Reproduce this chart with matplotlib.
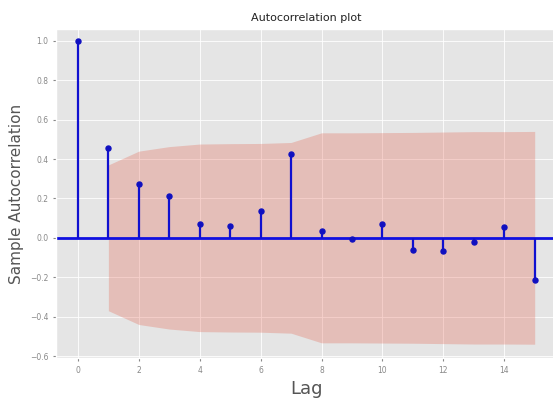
import numpy as np
import matplotlib
matplotlib.use("Agg")
import matplotlib.pyplot as plt

plt.style.use("ggplot")

lags = list(range(16))
acf_values = [1.0, 0.455, 0.275, 0.213, 0.071, 0.06, 0.134, 0.425,
              0.036, -0.007, 0.071, -0.064, -0.068, -0.02, 0.056, -0.215]
# 95% confidence half-width for lags 1..15
conf_half = [0.37, 0.44, 0.463, 0.476, 0.478, 0.479, 0.484, 0.533,
             0.533, 0.534, 0.535, 0.537, 0.539, 0.539, 0.54]

y_ticks = [-0.6, -0.4, -0.2, 0.0, 0.2, 0.4, 0.6, 0.8, 1.0]
x_ticks = [0, 2, 4, 6, 8, 10, 12, 14]

fig = plt.figure(figsize=(5.53, 3.99), dpi=100)
ax = fig.add_axes([56 / 553, 1 - 358 / 399, (556 - 56) / 553, (358 - 29) / 399])
ax.grid(True, color="white", linewidth=0.6)

band_lags = np.array(lags[1:])
band = np.array(conf_half)
ax.fill_between(band_lags, -band, band, color="#E24A33", alpha=0.25, linewidth=0)

ax.axhline(0, color="#1010e0", linewidth=2)
ax.vlines(lags, 0, acf_values, color="#1010d0", linewidth=1.6)
ax.plot(lags, acf_values, "o", color="#1010c0", markersize=3.6)

ax.set_xlim(-0.72, 15.7)
ax.set_ylim(-0.61, 1.06)
ax.set_yticks(y_ticks)
ax.set_xticks(x_ticks)
ax.tick_params(labelsize=5.5, colors="#888888", length=2)
ax.set_title("Autocorrelation plot", fontsize=8, color="#222222")
ax.set_xlabel("Lag", fontsize=13, color="#555555")
ax.set_ylabel("Sample Autocorrelation", fontsize=11, color="#555555")

fig.savefig("out.png", dpi=100)
